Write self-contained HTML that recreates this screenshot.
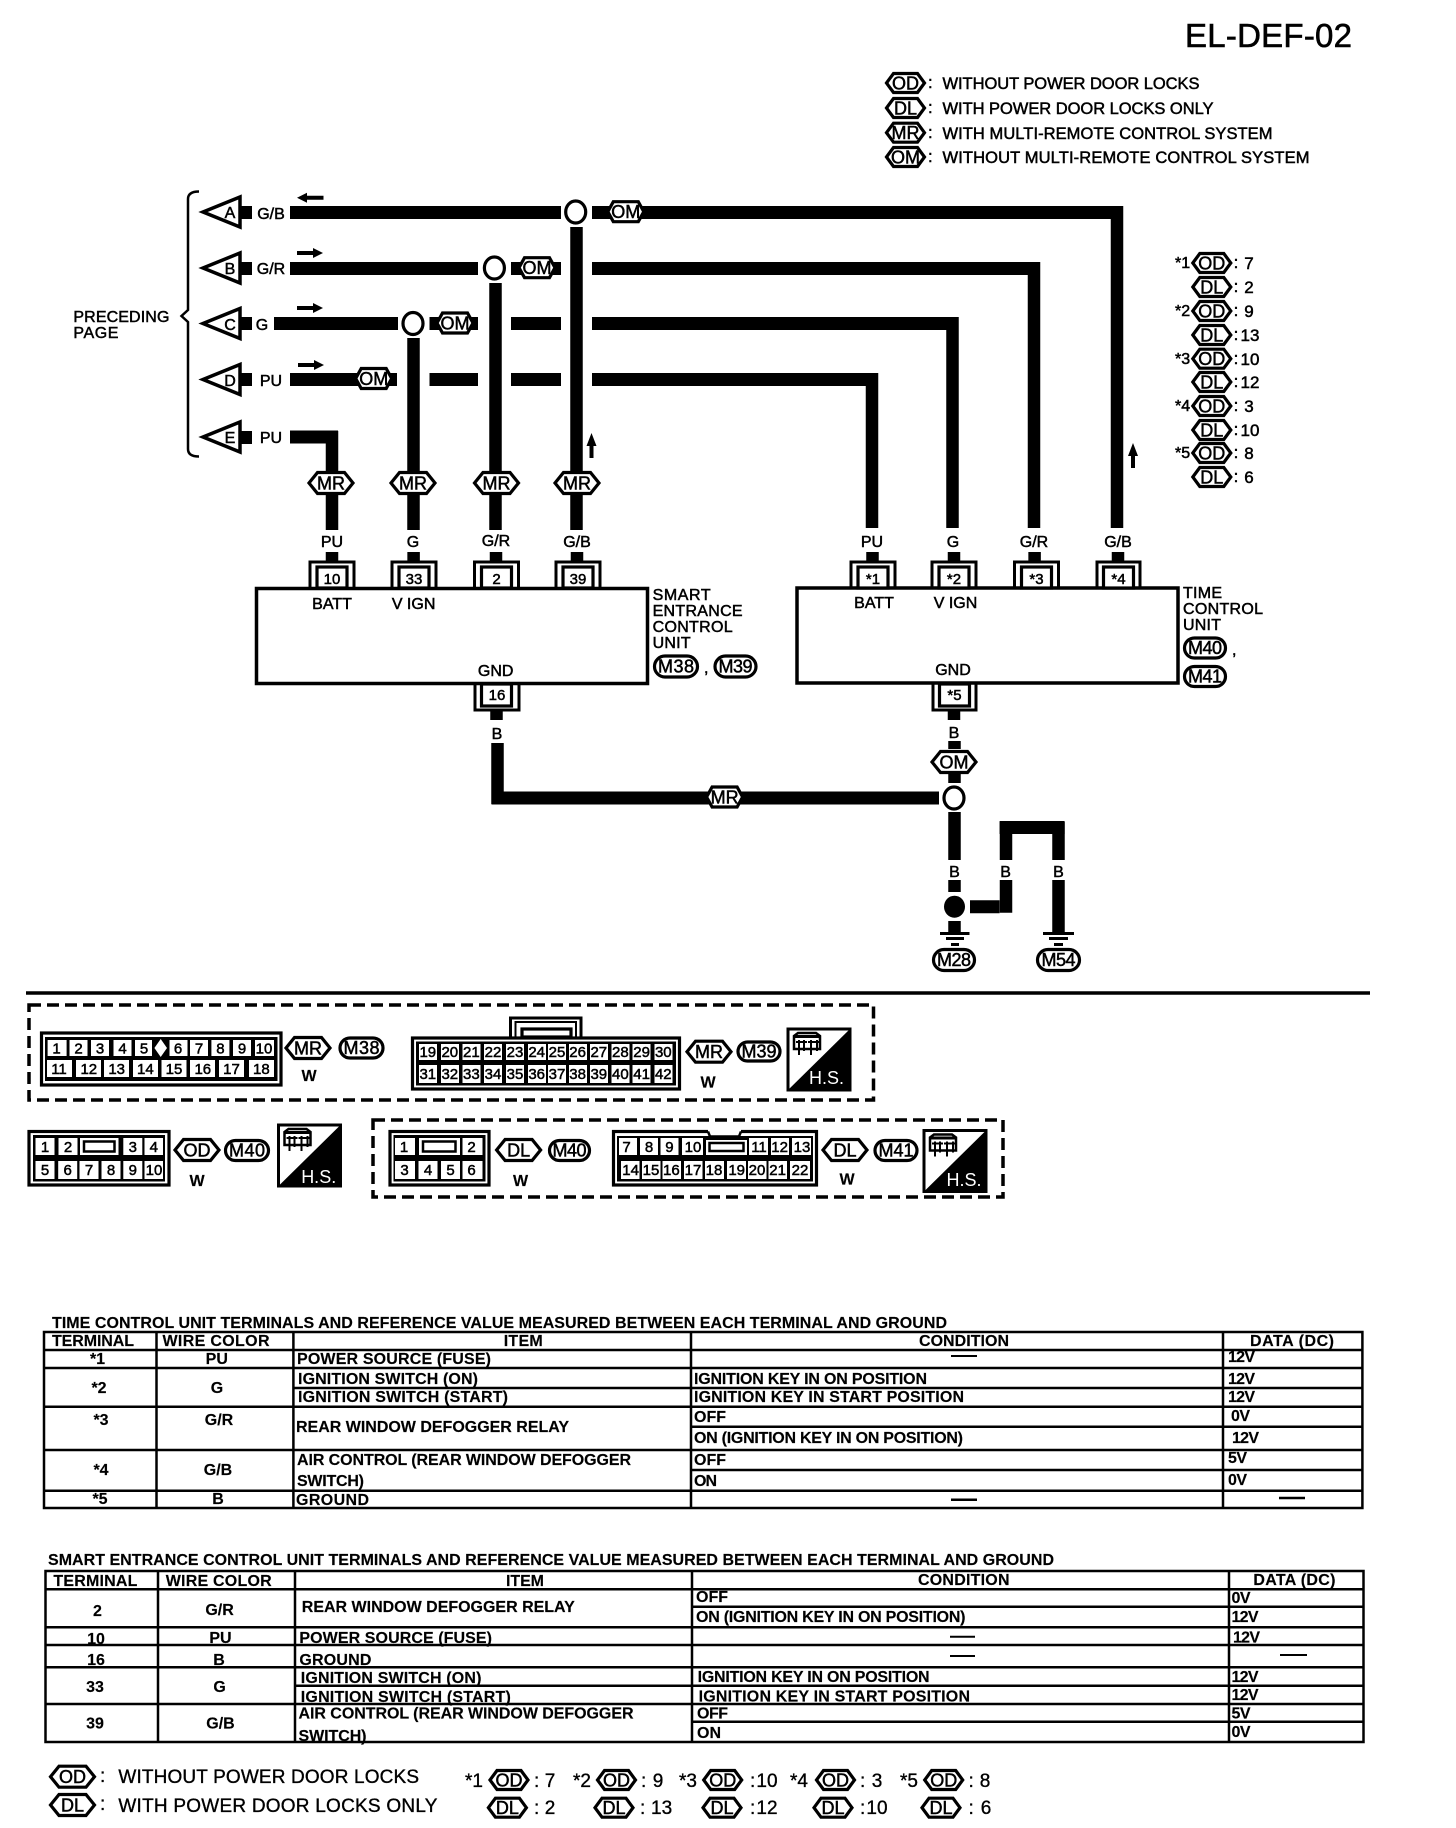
<!DOCTYPE html>
<html><head><meta charset="utf-8"><title>EL-DEF-02</title>
<style>
html,body{margin:0;padding:0;background:#fff}
svg{display:block}
text{font-family:"Liberation Sans",sans-serif;fill:#000}
.t{font-size:16px;stroke:#000;stroke-width:.5}
.m{text-anchor:middle}
.b{font-size:16px;font-weight:bold;stroke:#000;stroke-width:.15}
.h{font-size:18px;stroke:#000;stroke-width:.5;text-anchor:middle}
.c{font-size:15px;stroke:#000;stroke-width:.5;text-anchor:middle}
.l{font-size:16.5px;stroke:#000;stroke-width:.5}
.n{font-size:17px;stroke:#000;stroke-width:.5;text-anchor:middle}
.f{font-size:19px;stroke:#000;stroke-width:.35}
.w{fill:none;stroke:#000;stroke-width:13}
.v{fill:none;stroke:#000;stroke-width:12.5}
.s{fill:#fff;stroke:#000;stroke-width:3.2}
.p{fill:none;stroke:#000;stroke-width:3}
.g{fill:#fff}
.k{fill:#000}
.d{fill:none;stroke:#000;stroke-width:3.5;stroke-dasharray:12 6}
.x{fill:none;stroke:#000;stroke-width:2.5}
</style></head><body>
<svg xmlns="http://www.w3.org/2000/svg" width="1456" height="1828" viewBox="0 0 1456 1828">
<defs>
<polygon id="h38" class="s" points="-19,0 -12,-9.5 12,-9.5 19,0 12,9.5 -12,9.5"/>
<polygon id="h36" class="s" points="-18,0 -12.5,-10 12.5,-10 18,0 12.5,10 -12.5,10"/>
<polygon id="h44" class="s" points="-22,0 -13.5,-10.5 13.5,-10.5 22,0 13.5,10.5 -13.5,10.5"/>
<polygon id="tri" points="-37,0 0,-15 0,15" fill="#fff" stroke="#000" stroke-width="3.5"/>
<g id="hs">
<rect x="1" y="1" width="62" height="61" fill="#fff" stroke="#000" stroke-width="3"/>
<polygon points="64,0 64,63 0,63" fill="#000"/>
<path d="M7 8L11 5H29L33 8V21H7z" fill="#fff" stroke="#000" stroke-width="2.5"/>
<path d="M6 7H34V10H6z" fill="#000"/>
<path d="M12 12V27M17 12V23M24 12V27M30 12V23M9 14H20M21 14H32" stroke="#000" stroke-width="2" fill="none"/>
</g>
</defs>

<!-- header -->
<text x="1185" y="47" font-size="33" textLength="167" stroke="#000" stroke-width=".6">EL-DEF-02</text>
<use href="#h38" x="905.5" y="83"/><text class="h" x="905.5" y="89.5">OD</text><text class="l" x="928" y="88">:</text><text class="l" x="942.5" y="89" textLength="257">WITHOUT POWER DOOR LOCKS</text>
<use href="#h38" x="905.5" y="108"/><text class="h" x="905.5" y="114.5">DL</text><text class="l" x="928" y="113">:</text><text class="l" x="942.5" y="114" textLength="271">WITH POWER DOOR LOCKS ONLY</text>
<use href="#h38" x="905.5" y="132.7"/><text class="h" x="905.5" y="139">MR</text><text class="l" x="928" y="138">:</text><text class="l" x="942.5" y="139" textLength="330">WITH MULTI-REMOTE CONTROL SYSTEM</text>
<use href="#h38" x="905.5" y="157"/><text class="h" x="905.5" y="163.5">OM</text><text class="l" x="928" y="162">:</text><text class="l" x="942.5" y="163" textLength="367">WITHOUT MULTI-REMOTE CONTROL SYSTEM</text>

<!-- side legend -->
<text class="t" x="1175" y="268">*1</text><use href="#h38" x="1211.8" y="263"/><text class="h" x="1211.8" y="269.5">OD</text><text class="n" x="1236" y="268">:</text><text class="n" x="1249" y="269">7</text>
<use href="#h38" x="1211.8" y="287"/><text class="h" x="1211.8" y="293.5">DL</text><text class="n" x="1236" y="292">:</text><text class="n" x="1249" y="293">2</text>
<text class="t" x="1175" y="316">*2</text><use href="#h38" x="1211.8" y="311"/><text class="h" x="1211.8" y="317.5">OD</text><text class="n" x="1236" y="316">:</text><text class="n" x="1249" y="317">9</text>
<use href="#h38" x="1211.8" y="335"/><text class="h" x="1211.8" y="341.5">DL</text><text class="n" x="1236" y="340">:</text><text class="n" x="1250" y="341">13</text>
<text class="t" x="1175" y="364">*3</text><use href="#h38" x="1211.8" y="358.7"/><text class="h" x="1211.8" y="365">OD</text><text class="n" x="1236" y="364">:</text><text class="n" x="1250" y="365">10</text>
<use href="#h38" x="1211.8" y="382"/><text class="h" x="1211.8" y="388.5">DL</text><text class="n" x="1236" y="387">:</text><text class="n" x="1250" y="388">12</text>
<text class="t" x="1175" y="411">*4</text><use href="#h38" x="1211.8" y="406"/><text class="h" x="1211.8" y="412.5">OD</text><text class="n" x="1236" y="411">:</text><text class="n" x="1249" y="412">3</text>
<use href="#h38" x="1211.8" y="430"/><text class="h" x="1211.8" y="436.5">DL</text><text class="n" x="1236" y="435">:</text><text class="n" x="1250" y="436">10</text>
<text class="t" x="1175" y="458">*5</text><use href="#h38" x="1211.8" y="453"/><text class="h" x="1211.8" y="459.5">OD</text><text class="n" x="1236" y="458">:</text><text class="n" x="1249" y="459">8</text>
<use href="#h38" x="1211.8" y="477"/><text class="h" x="1211.8" y="483.5">DL</text><text class="n" x="1236" y="482">:</text><text class="n" x="1249" y="483">6</text>

<!-- brace and preceding page -->
<path d="M199 191.5 Q188 191.5 188 199 V310 L181.5 316 L188 322 V449 Q188 456.5 199 456.5" fill="none" stroke="#000" stroke-width="2.5"/>
<text class="t" x="73.4" y="322" textLength="96">PRECEDING</text>
<text class="t" x="73.4" y="338" textLength="45">PAGE</text>

<!-- triangles -->
<rect class="k" x="239" y="206" width="13" height="13"/><use href="#tri" x="240" y="212"/><text class="t m" x="230" y="218">A</text>
<rect class="k" x="239" y="262" width="13" height="13"/><use href="#tri" x="240" y="268"/><text class="t m" x="230" y="274">B</text>
<rect class="k" x="239" y="317" width="13" height="13"/><use href="#tri" x="240" y="323.5"/><text class="t m" x="230" y="330">C</text>
<rect class="k" x="239" y="373" width="13" height="13"/><use href="#tri" x="240" y="379.5"/><text class="t m" x="230" y="386">D</text>
<rect class="k" x="239" y="431" width="13" height="13"/><use href="#tri" x="240" y="437"/><text class="t m" x="230" y="443">E</text>
<text class="t m" x="271" y="219">G/B</text>
<text class="t m" x="271" y="274">G/R</text>
<text class="t m" x="262" y="330">G</text>
<text class="t m" x="271" y="386">PU</text>
<text class="t m" x="271" y="443">PU</text>

<!-- wires -->
<path class="w" d="M290 212.5H561M592 212.5H1117M290 268.5H478M511 268.5H561M592 268.5H1034M274 323.5H398M429.5 323.5H478M511 323.5H561M592 323.5H952.5M290 379.5H397M429.5 379.5H478M511 379.5H561M592 379.5H872M290 437H338M491.5 798H939M999.6 906.7H970"/>
<path class="v" d="M1117 206V528M1034 262V528M952.5 317V528M872 373V528M332 431V530M413.5 338V530M495.5 283V530M576.5 227V530"/>
<path class="v" d="M332 552V562M413.6 552V562M496 552V562M577 552V562M872.5 552V562M954 552V562M1034.6 552V562M1118 552V562M496.5 710V720M954 710V720M497.5 743V804M954.5 741V749M954.5 772V783M954.5 812V860M954.5 880V892M1006 880V912.7M1006 860V822M1058.5 822V860M1058.5 880V932M954.5 921V932"/>
<path class="w" d="M999.6 827.5H1064.6"/>

<!-- small arrows -->
<path class="k" d="M297 197.7l10-5v3h16.5v4h-16.5v3z"/>
<path class="k" d="M323 253l-10-5v3h-16v4h16v3z"/>
<path class="k" d="M323 308l-10-5v3h-16v4h16v3z"/>
<path class="k" d="M324 365l-10-5v3h-16v4h16v3z"/>
<path class="k" d="M591.5 433l-5 13h3v12h4v-12h3z"/>
<path class="k" d="M1133 443l-5 13h3v12h4v-12h3z"/>

<!-- junctions -->
<ellipse cx="575.7" cy="212" rx="10" ry="11" class="s"/>
<ellipse cx="494.4" cy="268" rx="10" ry="11" class="s"/>
<ellipse cx="413" cy="323.5" rx="10" ry="11" class="s"/>
<ellipse cx="954" cy="798" rx="10" ry="11" class="s"/>
<ellipse cx="954.5" cy="906.7" rx="10.5" ry="11" class="k"/>

<!-- OM / MR hexes on wires -->
<use href="#h36" x="625.8" y="211.7"/><text class="h" x="625.8" y="218">OM</text>
<use href="#h36" x="537" y="267.7"/><text class="h" x="537" y="274">OM</text>
<use href="#h36" x="455" y="323"/><text class="h" x="455" y="329.5">OM</text>
<use href="#h36" x="373.7" y="378.5"/><text class="h" x="373.7" y="385">OM</text>
<use href="#h44" x="331" y="483"/><text class="h" x="331" y="489.5">MR</text>
<use href="#h44" x="413" y="483"/><text class="h" x="413" y="489.5">MR</text>
<use href="#h44" x="496.5" y="483"/><text class="h" x="496.5" y="489.5">MR</text>
<use href="#h44" x="577" y="483"/><text class="h" x="577" y="489.5">MR</text>
<use href="#h36" x="724.6" y="797"/><text class="h" x="724.6" y="803.5">MR</text>
<use href="#h44" x="954" y="762"/><text class="h" x="954" y="768.5">OM</text>

<!-- wire labels -->
<text class="t m" x="332" y="547">PU</text><text class="t m" x="413" y="547">G</text><text class="t m" x="496" y="546">G/R</text><text class="t m" x="577" y="547">G/B</text>
<text class="t m" x="872" y="547">PU</text><text class="t m" x="953" y="547">G</text><text class="t m" x="1034" y="547">G/R</text><text class="t m" x="1118" y="547">G/B</text>

<!-- smart entrance unit -->
<rect x="256.5" y="588.5" width="391" height="95" fill="#fff" stroke="#000" stroke-width="3.5"/>
<path class="p" d="M310 588V562H354V588M392 588V562H436V588M474.5 588V562H518.5V588M556 588V562H600V588"/>
<rect class="s" x="317" y="567" width="30" height="21"/><text class="c" x="332" y="584">10</text>
<rect class="s" x="399" y="567" width="30" height="21"/><text class="c" x="414" y="584">33</text>
<rect class="s" x="481.5" y="567" width="30" height="21"/><text class="c" x="496.5" y="584">2</text>
<rect class="s" x="563" y="567" width="30" height="21"/><text class="c" x="578" y="584">39</text>
<text class="t m" x="332" y="609">BATT</text><text class="t m" x="413.6" y="609">V IGN</text><text class="t m" x="495.7" y="676">GND</text>
<path class="p" d="M475 684V710H519V684"/>
<rect class="s" x="481.5" y="684" width="30" height="22"/><text class="c" x="497" y="700">16</text>
<text class="t m" x="497" y="739">B</text>
<text class="t" x="652.6" y="600" textLength="58">SMART</text>
<text class="t" x="652.6" y="616" textLength="90">ENTRANCE</text>
<text class="t" x="652.6" y="632" textLength="80">CONTROL</text>
<text class="t" x="652.6" y="648" textLength="38">UNIT</text>
<rect class="s" x="654.5" y="656" width="43" height="21" rx="10.5"/><text class="h" x="676" y="672.5" textLength="36">M38</text>
<text class="t" x="704" y="673">,</text>
<rect class="s" x="715" y="656" width="41" height="21" rx="10.5"/><text class="h" x="735.5" y="672.5" textLength="34">M39</text>

<!-- time control unit -->
<rect x="797" y="588" width="381" height="95" fill="#fff" stroke="#000" stroke-width="3.5"/>
<path class="p" d="M851 588V562H895V588M932 588V562H976V588M1014.5 588V562H1058.5V588M1097 588V562H1140V588"/>
<rect class="s" x="858" y="567" width="30" height="21"/><text class="c" x="873" y="584">*1</text>
<rect class="s" x="939" y="567" width="30" height="21"/><text class="c" x="954" y="584">*2</text>
<rect class="s" x="1021.5" y="567" width="30" height="21"/><text class="c" x="1036.5" y="584">*3</text>
<rect class="s" x="1103.5" y="567" width="30" height="21"/><text class="c" x="1118.5" y="584">*4</text>
<text class="t m" x="874" y="608">BATT</text><text class="t m" x="955.5" y="608">V IGN</text><text class="t m" x="953" y="675">GND</text>
<path class="p" d="M933 684V710H976V684"/>
<rect class="s" x="939.5" y="684" width="30" height="22"/><text class="c" x="954.5" y="700">*5</text>
<text class="t m" x="954" y="738">B</text>
<text class="t" x="1183" y="598" textLength="39">TIME</text>
<text class="t" x="1183" y="614" textLength="80">CONTROL</text>
<text class="t" x="1183" y="630" textLength="38">UNIT</text>
<rect class="s" x="1184.5" y="638" width="41" height="20" rx="10"/><text class="h" x="1205" y="654" textLength="34">M40</text>
<text class="t" x="1232" y="655">,</text>
<rect class="s" x="1184.5" y="666.5" width="41" height="20" rx="10"/><text class="h" x="1205" y="682.5" textLength="34">M41</text>

<!-- ground -->
<text class="t m" x="954.5" y="877">B</text><text class="t m" x="1005.6" y="877">B</text><text class="t m" x="1058.5" y="877">B</text>
<path class="k" d="M940 932h29.5v3h-29.5zM946 937h18v3h-18zM951 943h8v3h-8zM1043 932h31v3h-31zM1049 937h19v3h-19zM1054 943h9v3h-9z"/>
<rect class="s" x="933.5" y="949.5" width="41" height="21" rx="10.5"/><text class="h" x="954" y="966" textLength="34">M28</text>
<rect class="s" x="1037.5" y="949.5" width="42" height="21" rx="10.5"/><text class="h" x="1058.5" y="966" textLength="34">M54</text>

<!-- separator -->
<path d="M26 993H1370" stroke="#000" stroke-width="3.5"/>
<rect class="d" x="29" y="1005" width="844.5" height="95"/>
<rect class="d" x="373" y="1120" width="630" height="77"/>

<!-- M38 connector -->
<rect class="s" x="41.5" y="1033" width="239.5" height="52"/>
<rect class="k" x="45" y="1037" width="232.5" height="44"/>
<rect class="g" x="47.6" y="1040" width="19" height="16"/><rect class="g" x="69.5" y="1040" width="18" height="16"/><rect class="g" x="91" y="1040" width="18" height="16"/><rect class="g" x="113.5" y="1040" width="18" height="16"/><rect class="g" x="135" y="1040" width="17" height="16"/><rect class="g" x="169.5" y="1040" width="18" height="16"/><rect class="g" x="190" y="1040" width="18" height="16"/><rect class="g" x="211.4" y="1040" width="18" height="16"/><rect class="g" x="233" y="1040" width="18" height="16"/><rect class="g" x="255" y="1040" width="19" height="16"/>
<polygon class="g" points="160.7,1039 167,1048 160.7,1057 154.4,1048"/>
<rect class="g" x="47" y="1060" width="25" height="17"/><rect class="g" x="76" y="1060" width="25" height="17"/><rect class="g" x="104" y="1060" width="25" height="17"/><rect class="g" x="133" y="1060" width="25" height="17"/><rect class="g" x="161.5" y="1060" width="25" height="17"/><rect class="g" x="190" y="1060" width="25" height="17"/><rect class="g" x="219" y="1060" width="25" height="17"/><rect class="g" x="249" y="1060" width="25" height="17"/>
<text class="c" x="56.6" y="1053.5">1</text><text class="c" x="78.5" y="1053.5">2</text><text class="c" x="100" y="1053.5">3</text><text class="c" x="122.5" y="1053.5">4</text><text class="c" x="144" y="1053.5">5</text><text class="c" x="178" y="1053.5">6</text><text class="c" x="199" y="1053.5">7</text><text class="c" x="220.4" y="1053.5">8</text><text class="c" x="242" y="1053.5">9</text><text class="c" x="264" y="1053.5">10</text>
<text class="c" x="59" y="1074">11</text><text class="c" x="88.8" y="1074">12</text><text class="c" x="116.7" y="1074">13</text><text class="c" x="145.4" y="1074">14</text><text class="c" x="174" y="1074">15</text><text class="c" x="202.8" y="1074">16</text><text class="c" x="231.5" y="1074">17</text><text class="c" x="261.4" y="1074">18</text>
<use href="#h44" x="308" y="1048"/><text class="h" x="308" y="1054.5">MR</text>
<rect class="s" x="340" y="1038" width="43" height="20" rx="10"/><text class="h" x="361.5" y="1054" textLength="36">M38</text>
<text class="b m" x="309" y="1081">W</text>

<!-- M39 connector -->
<path class="p" d="M510.5 1037V1018H581V1037"/>
<path d="M515.5 1037V1022H576V1037" fill="none" stroke="#000" stroke-width="2"/>
<rect class="s" x="522" y="1029" width="49" height="8"/>
<rect class="s" x="412.5" y="1038" width="267" height="51"/>
<rect class="k" x="416" y="1041.5" width="260" height="44"/>
<rect class="g" x="419" y="1044" width="18" height="16"/><rect class="g" x="441" y="1044" width="18" height="16"/><rect class="g" x="462.5" y="1044" width="18" height="16"/><rect class="g" x="484" y="1044" width="18" height="16"/><rect class="g" x="506" y="1044" width="18" height="16"/><rect class="g" x="528" y="1044" width="18" height="16"/><rect class="g" x="548" y="1044" width="18" height="16"/><rect class="g" x="569" y="1044" width="18" height="16"/><rect class="g" x="590" y="1044" width="18" height="16"/><rect class="g" x="611.5" y="1044" width="18" height="16"/><rect class="g" x="632.5" y="1044" width="18" height="16"/><rect class="g" x="654.5" y="1044" width="18" height="16"/>
<rect class="g" x="419" y="1065" width="18" height="18"/><rect class="g" x="441" y="1065" width="18" height="18"/><rect class="g" x="462.5" y="1065" width="18" height="18"/><rect class="g" x="484" y="1065" width="18" height="18"/><rect class="g" x="506" y="1065" width="18" height="18"/><rect class="g" x="528" y="1065" width="18" height="18"/><rect class="g" x="548" y="1065" width="18" height="18"/><rect class="g" x="569" y="1065" width="18" height="18"/><rect class="g" x="590" y="1065" width="18" height="18"/><rect class="g" x="611.5" y="1065" width="18" height="18"/><rect class="g" x="632.5" y="1065" width="18" height="18"/><rect class="g" x="654.5" y="1065" width="18" height="18"/>
<text class="c" x="427.8" y="1057">19</text><text class="c" x="449.8" y="1057">20</text><text class="c" x="471.4" y="1057">21</text><text class="c" x="493" y="1057">22</text><text class="c" x="515" y="1057">23</text><text class="c" x="536.7" y="1057">24</text><text class="c" x="557" y="1057">25</text><text class="c" x="577.6" y="1057">26</text><text class="c" x="598.8" y="1057">27</text><text class="c" x="620.4" y="1057">28</text><text class="c" x="641.6" y="1057">29</text><text class="c" x="663.3" y="1057">30</text>
<text class="c" x="427.8" y="1079">31</text><text class="c" x="449.8" y="1079">32</text><text class="c" x="471.4" y="1079">33</text><text class="c" x="493" y="1079">34</text><text class="c" x="515" y="1079">35</text><text class="c" x="536.7" y="1079">36</text><text class="c" x="557" y="1079">37</text><text class="c" x="577.6" y="1079">38</text><text class="c" x="598.8" y="1079">39</text><text class="c" x="620.4" y="1079">40</text><text class="c" x="641.6" y="1079">41</text><text class="c" x="663.3" y="1079">42</text>
<use href="#h44" x="709" y="1051.7"/><text class="h" x="709" y="1058">MR</text>
<rect class="s" x="738" y="1042" width="42" height="19" rx="9.5"/><text class="h" x="759" y="1057.5" textLength="35">M39</text>
<text class="b m" x="708" y="1087.5">W</text>
<use href="#hs" x="787" y="1028"/><text x="826.5" y="1084" font-size="18" style="fill:#fff;text-anchor:middle">H.S.</text>

<!-- M40 OD -->
<rect class="s" x="29" y="1131.5" width="140" height="53.5"/>
<rect class="k" x="33" y="1135" width="132" height="46.5"/>
<rect class="g" x="35.5" y="1138" width="19" height="17"/><rect class="g" x="58.5" y="1138" width="19" height="17"/><rect class="g" x="80" y="1138" width="38.5" height="17"/><rect class="g" x="123.3" y="1138" width="19" height="17"/><rect class="g" x="144.5" y="1138" width="18.5" height="17"/>
<rect x="84" y="1141.5" width="30.5" height="10" fill="#fff" stroke="#000" stroke-width="2.5"/>
<rect class="g" x="35.5" y="1161" width="19" height="18"/><rect class="g" x="58.2" y="1161" width="19" height="18"/><rect class="g" x="79.5" y="1161" width="19" height="18"/><rect class="g" x="101.5" y="1161" width="19" height="18"/><rect class="g" x="123.3" y="1161" width="19" height="18"/><rect class="g" x="144.5" y="1161" width="18.5" height="18"/>
<text class="c" x="45" y="1152">1</text><text class="c" x="68" y="1152">2</text><text class="c" x="132.8" y="1152">3</text><text class="c" x="153.8" y="1152">4</text>
<text class="c" x="45" y="1175">5</text><text class="c" x="67.7" y="1175">6</text><text class="c" x="89" y="1175">7</text><text class="c" x="111" y="1175">8</text><text class="c" x="132.8" y="1175">9</text><text class="c" x="154" y="1175">10</text>
<use href="#h44" x="197" y="1150"/><text class="h" x="197" y="1156.5">OD</text>
<rect class="s" x="225.5" y="1140.5" width="43" height="20" rx="10"/><text class="h" x="247" y="1156.5" textLength="36">M40</text>
<text class="b m" x="197" y="1186">W</text>
<use href="#hs" x="277.5" y="1124"/><text x="318.7" y="1183" font-size="18" style="fill:#fff;text-anchor:middle">H.S.</text>

<!-- M40 DL -->
<rect class="s" x="390" y="1131.5" width="99" height="53.5"/>
<rect class="k" x="393.5" y="1135" width="92" height="46.5"/>
<rect class="g" x="395" y="1138" width="20" height="17"/><rect class="g" x="419" y="1138" width="41" height="17"/><rect class="g" x="462.5" y="1138" width="20" height="17"/>
<rect x="423" y="1141.5" width="32.5" height="10" fill="#fff" stroke="#000" stroke-width="2.5"/>
<rect class="g" x="395" y="1161" width="20" height="18"/><rect class="g" x="418.5" y="1161" width="19" height="18"/><rect class="g" x="441" y="1161" width="19" height="18"/><rect class="g" x="462.5" y="1161" width="20" height="18"/>
<text class="c" x="404" y="1152">1</text><text class="c" x="471.5" y="1152">2</text>
<text class="c" x="404.5" y="1175">3</text><text class="c" x="428" y="1175">4</text><text class="c" x="450.5" y="1175">5</text><text class="c" x="471.5" y="1175">6</text>
<use href="#h44" x="518.6" y="1150"/><text class="h" x="518.6" y="1156.5">DL</text>
<rect class="s" x="549.5" y="1140.5" width="40" height="20" rx="10"/><text class="h" x="569.5" y="1156.5" textLength="34">M40</text>
<text class="b m" x="520.5" y="1186">W</text>

<!-- M41 -->
<rect class="s" x="613.5" y="1131.5" width="203" height="53.5"/>
<rect class="g" x="708" y="1129" width="33" height="5"/>
<path d="M708 1131.5l2 5h29l2-5" fill="none" stroke="#000" stroke-width="2.5"/>
<rect class="k" x="617" y="1136" width="196" height="45.5"/>
<rect class="g" x="619" y="1138" width="18" height="17"/><rect class="g" x="640" y="1138" width="18" height="17"/><rect class="g" x="660.5" y="1138" width="18" height="17"/><rect class="g" x="682" y="1138" width="21" height="17"/><rect class="g" x="706" y="1140" width="41" height="15"/><rect class="g" x="749" y="1138" width="19" height="17"/><rect class="g" x="771" y="1138" width="18" height="17"/><rect class="g" x="792" y="1138" width="19" height="17"/>
<rect x="709.5" y="1143" width="34" height="8" fill="#fff" stroke="#000" stroke-width="2.5"/>
<rect class="g" x="621" y="1161" width="18.5" height="18"/><rect class="g" x="642" y="1161" width="18.5" height="18"/><rect class="g" x="662.5" y="1161" width="18.5" height="18"/><rect class="g" x="684" y="1161" width="18.5" height="18"/><rect class="g" x="705" y="1161" width="19" height="18"/><rect class="g" x="727" y="1161" width="19" height="18"/><rect class="g" x="748" y="1161" width="18.5" height="18"/><rect class="g" x="768.5" y="1161" width="18.5" height="18"/><rect class="g" x="790" y="1161" width="20" height="18"/>
<text class="c" x="626.5" y="1152">7</text><text class="c" x="649" y="1152">8</text><text class="c" x="669.4" y="1152">9</text><text class="c" x="693" y="1152">10</text><text class="c" x="759" y="1152">11</text><text class="c" x="779.6" y="1152">12</text><text class="c" x="802" y="1152">13</text>
<text class="c" x="630.6" y="1175">14</text><text class="c" x="651" y="1175">15</text><text class="c" x="671.4" y="1175">16</text><text class="c" x="693" y="1175">17</text><text class="c" x="714" y="1175">18</text><text class="c" x="736.7" y="1175">19</text><text class="c" x="757" y="1175">20</text><text class="c" x="777.6" y="1175">21</text><text class="c" x="800" y="1175">22</text>
<use href="#h44" x="845" y="1150"/><text class="h" x="845" y="1156.5">DL</text>
<rect class="s" x="875" y="1140.5" width="42" height="20" rx="10"/><text class="h" x="896" y="1156.5" textLength="35">M41</text>
<text class="b m" x="847" y="1184.5">W</text>
<use href="#hs" x="923" y="1129.5"/><text x="964" y="1186" font-size="18" style="fill:#fff;text-anchor:middle">H.S.</text>

<!-- table 1 -->
<rect class="x" x="44" y="1332" width="1318.4" height="176"/>
<path class="x" d="M44 1350H1362M44 1368H1362M293.4 1388H1362M44 1406.7H1362M691 1426.7H1362M44 1450H1362M691 1470H1362M44 1490.7H1362M156.5 1332V1508M293.4 1332V1508M691 1332V1508M1223 1332V1508"/>
<g transform="translate(0,-1)">
<text class="b" x="52" y="1329" textLength="895">TIME CONTROL UNIT TERMINALS AND REFERENCE VALUE MEASURED BETWEEN EACH TERMINAL AND GROUND</text>
<text class="b" x="52" y="1347" textLength="82">TERMINAL</text><text class="b" x="162.5" y="1347" textLength="107">WIRE COLOR</text><text class="b" x="503.7" y="1347" textLength="39">ITEM</text><text class="b" x="919" y="1347" textLength="90">CONDITION</text><text class="b" x="1250" y="1347" textLength="84">DATA (DC)</text>
<text class="b m" x="97.5" y="1365">*1</text><text class="b m" x="216.8" y="1365">PU</text><text class="b" x="297" y="1365" textLength="194">POWER SOURCE (FUSE)</text><path d="M951 1357H977" stroke="#000" stroke-width="2"/><text class="b" x="1228" y="1363" textLength="27">12V</text>
<text class="b m" x="99" y="1394">*2</text><text class="b m" x="217" y="1394">G</text><text class="b" x="298" y="1385" textLength="180">IGNITION SWITCH (ON)</text><text class="b" x="298" y="1403" textLength="210">IGNITION SWITCH (START)</text><text class="b" x="694" y="1385" textLength="233">IGNITION KEY IN ON POSITION</text><text class="b" x="694" y="1403" textLength="270">IGNITION KEY IN START POSITION</text><text class="b" x="1228" y="1385" textLength="27">12V</text><text class="b" x="1228" y="1403" textLength="27">12V</text>
<text class="b m" x="101" y="1426">*3</text><text class="b m" x="219" y="1426">G/R</text><text class="b" x="296" y="1433" textLength="273">REAR WINDOW DEFOGGER RELAY</text><text class="b" x="694" y="1423">OFF</text><text class="b" x="694" y="1444" textLength="269">ON (IGNITION KEY IN ON POSITION)</text><text class="b" x="1231" y="1422" textLength="19">0V</text><text class="b" x="1232" y="1444" textLength="27">12V</text>
<text class="b m" x="101" y="1476">*4</text><text class="b m" x="218" y="1476">G/B</text><text class="b" x="297" y="1466" textLength="334">AIR CONTROL (REAR WINDOW DEFOGGER</text><text class="b" x="297" y="1487" textLength="67">SWITCH)</text><text class="b" x="694" y="1466">OFF</text><text class="b" x="694" y="1487" textLength="23">ON</text><text class="b" x="1228" y="1464" textLength="19">5V</text><text class="b" x="1228" y="1486" textLength="19">0V</text>
<text class="b m" x="100" y="1505">*5</text><text class="b m" x="218" y="1505">B</text><text class="b" x="296" y="1506" textLength="73">GROUND</text><path d="M951 1500.7H977M1279 1499H1305" stroke="#000" stroke-width="2.5"/>
</g>

<!-- table 2 -->
<text class="b" x="48" y="1565" textLength="1006">SMART ENTRANCE CONTROL UNIT TERMINALS AND REFERENCE VALUE MEASURED BETWEEN EACH TERMINAL AND GROUND</text>
<rect class="x" x="45.5" y="1571" width="1318" height="171"/>
<path class="x" d="M45 1589.3H1363M692 1606.7H1363M45 1627.3H1363M45 1645H1363M45 1667.3H1363M295 1685.7H1363M45 1704H1363M692 1721.7H1363M158 1571V1742M295 1571V1742M692 1571V1742M1229 1571V1742"/>
<text class="b" x="53.4" y="1586" textLength="84">TERMINAL</text><text class="b" x="165.7" y="1586" textLength="106">WIRE COLOR</text><text class="b" x="506" y="1586" textLength="38">ITEM</text><text class="b" x="918" y="1585" textLength="91.5">CONDITION</text><text class="b" x="1253.4" y="1585" textLength="82">DATA (DC)</text>
<text class="b m" x="97.5" y="1616">2</text><text class="b m" x="219.6" y="1615">G/R</text><text class="b" x="301.8" y="1612" textLength="273">REAR WINDOW DEFOGGER RELAY</text><text class="b" x="696" y="1602" textLength="32">OFF</text><text class="b" x="696" y="1622" textLength="269.5">ON (IGNITION KEY IN ON POSITION)</text><text class="b" x="1231.5" y="1603" textLength="19">0V</text><text class="b" x="1231.5" y="1622" textLength="27">12V</text>
<text class="b m" x="96" y="1644">10</text><text class="b m" x="220.5" y="1643">PU</text><text class="b" x="299.4" y="1643" textLength="192.6">POWER SOURCE (FUSE)</text><path d="M950 1636.7H975" stroke="#000" stroke-width="2"/><text class="b" x="1233" y="1642.5" textLength="27">12V</text>
<text class="b m" x="96" y="1665">16</text><text class="b m" x="219" y="1665">B</text><text class="b" x="299.4" y="1665" textLength="72">GROUND</text><path d="M950 1656H975M1280 1655H1307" stroke="#000" stroke-width="2"/>
<text class="b m" x="95" y="1692">33</text><text class="b m" x="219.6" y="1692">G</text><text class="b" x="300.8" y="1683" textLength="180.6">IGNITION SWITCH (ON)</text><text class="b" x="300.8" y="1702" textLength="210">IGNITION SWITCH (START)</text><text class="b" x="697.6" y="1682" textLength="232">IGNITION KEY IN ON POSITION</text><text class="b" x="698.6" y="1701.5" textLength="271.4">IGNITION KEY IN START POSITION</text><text class="b" x="1231.5" y="1682" textLength="27">12V</text><text class="b" x="1231.5" y="1700" textLength="27">12V</text>
<text class="b m" x="95" y="1728.5">39</text><text class="b m" x="220.5" y="1728.5">G/B</text><text class="b" x="298.5" y="1718.5" textLength="335">AIR CONTROL (REAR WINDOW DEFOGGER</text><text class="b" x="298.5" y="1741" textLength="68">SWITCH)</text><text class="b" x="697" y="1718.5" textLength="31">OFF</text><text class="b" x="697" y="1738" textLength="24">ON</text><text class="b" x="1231.5" y="1718.5" textLength="19">5V</text><text class="b" x="1231.5" y="1737" textLength="19">0V</text>

<!-- bottom legend -->
<use href="#h44" x="72.5" y="1776.7"/><text class="h" x="72.5" y="1783">OD</text><text class="f" x="100" y="1782">:</text><text class="f" x="118.4" y="1783" textLength="300.6">WITHOUT POWER DOOR LOCKS</text>
<use href="#h44" x="72.5" y="1805"/><text class="h" x="72.5" y="1811.5">DL</text><text class="f" x="100" y="1810">:</text><text class="f" x="118.4" y="1812" textLength="319">WITH POWER DOOR LOCKS ONLY</text>
<text class="f" x="465" y="1787">*1</text><use href="#h38" x="509" y="1780"/><text class="h" x="509" y="1786.5">OD</text><text class="f" x="534" y="1787">:</text><text class="f m" x="550" y="1787">7</text>
<use href="#h38" x="507.4" y="1807.7"/><text class="h" x="507.4" y="1814">DL</text><text class="f" x="534" y="1814">:</text><text class="f m" x="550" y="1814">2</text>
<text class="f" x="573" y="1787">*2</text><use href="#h38" x="616.5" y="1780"/><text class="h" x="616.5" y="1786.5">OD</text><text class="f" x="641" y="1787">:</text><text class="f m" x="658" y="1787">9</text>
<use href="#h38" x="614" y="1807.7"/><text class="h" x="614" y="1814">DL</text><text class="f" x="640" y="1814">:</text><text class="f m" x="661.6" y="1814">13</text>
<text class="f" x="679" y="1787">*3</text><use href="#h38" x="722.7" y="1780"/><text class="h" x="722.7" y="1786.5">OD</text><text class="f" x="750" y="1787">:</text><text class="f m" x="767" y="1787">10</text>
<use href="#h38" x="722" y="1807.7"/><text class="h" x="722" y="1814">DL</text><text class="f" x="750" y="1814">:</text><text class="f m" x="767" y="1814">12</text>
<text class="f" x="790" y="1787">*4</text><use href="#h38" x="835.5" y="1780"/><text class="h" x="835.5" y="1786.5">OD</text><text class="f" x="860" y="1787">:</text><text class="f m" x="877" y="1787">3</text>
<use href="#h38" x="833" y="1807.7"/><text class="h" x="833" y="1814">DL</text><text class="f" x="860" y="1814">:</text><text class="f m" x="877" y="1814">10</text>
<text class="f" x="900" y="1787">*5</text><use href="#h38" x="943.7" y="1780"/><text class="h" x="943.7" y="1786.5">OD</text><text class="f" x="968.5" y="1787">:</text><text class="f m" x="985" y="1787">8</text>
<use href="#h38" x="941" y="1807.7"/><text class="h" x="941" y="1814">DL</text><text class="f" x="968.5" y="1814">:</text><text class="f m" x="986" y="1814">6</text>
</svg>
</body></html>
